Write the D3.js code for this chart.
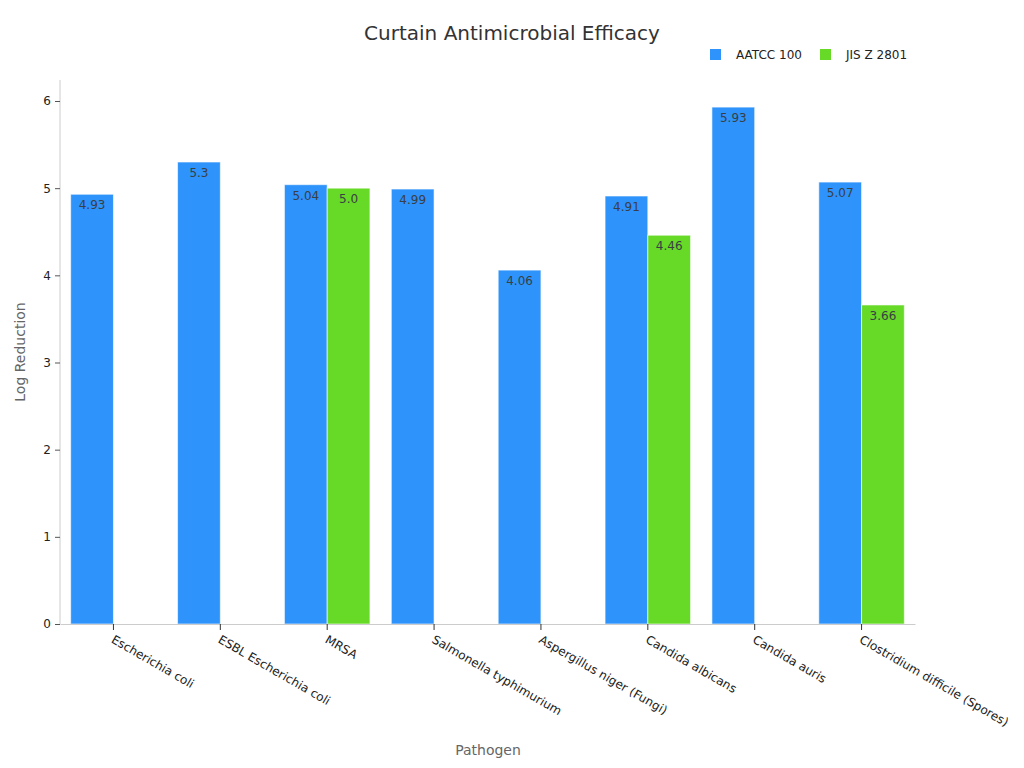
<!DOCTYPE html>
<html><head><meta charset="utf-8">
<script src="https://cdn.jsdelivr.net/npm/d3@7/dist/d3.min.js"></script>
<style>body{margin:0;background:#fff;font-family:"DejaVu Sans",sans-serif;}</style>
</head><body><svg id="c" width="1024" height="768"></svg>
<script>
const categories = ["Escherichia coli","ESBL Escherichia coli","MRSA","Salmonella typhimurium","Aspergillus niger (Fungi)","Candida albicans","Candida auris","Clostridium difficile (Spores)"];
const seriesNames = ["AATCC 100","JIS Z 2801"];
const aatcc = [4.93,5.3,5.04,4.99,4.06,4.91,5.93,5.07];
const jis = [null,null,5.0,null,null,4.46,null,3.66];
const yTicks = [0,1,2,3,4,5,6];
const colors = ["#2E93FA","#66DA26"];

const fmt = v => Number.isInteger(v) ? v.toFixed(1) : String(v);
const svg = d3.select("#c");
const m = {l:60, r:915, t:80, b:624};
const x0 = d3.scaleBand().domain(categories).range([m.l, m.r]).padding(0);
const bw = x0.bandwidth();
const x1 = d3.scaleBand().domain(seriesNames).range([bw*0.1, bw*0.9]).padding(0);
const y = d3.scaleLinear().domain([0,6]).range([m.b, 101]);

// title
svg.append("text").attr("x",512).attr("y",40).attr("text-anchor","middle")
  .attr("font-size",20).attr("fill","#333").text("Curtain Antimicrobial Efficacy");

// legend
const lg = svg.append("g");
[[710,736],[820,846]].forEach((p,i)=>{
  lg.append("rect").attr("x",p[0]).attr("y",49).attr("width",11).attr("height",11).attr("fill",colors[i]);
  lg.append("text").attr("x",p[1]).attr("y",59).attr("font-size",12).attr("fill","#222").text(seriesNames[i]);
});

// bars
const data = categories.map((c,i)=>({c, vals:[{s:seriesNames[0],v:aatcc[i]},{s:seriesNames[1],v:jis[i]}]}));
const g = svg.append("g");
data.forEach(d=>{
  d.vals.forEach((e,k)=>{
    if(e.v==null) return;
    const bx = x0(d.c)+x1(e.s);
    g.append("rect").attr("x",bx).attr("y",y(e.v)).attr("width",x1.bandwidth()).attr("height",y(0)-y(e.v))
      .attr("fill",colors[k]).attr("stroke","#ffffff").attr("stroke-opacity",0.6).attr("stroke-width",1);
    g.append("text").attr("x",bx+x1.bandwidth()/2).attr("y",y(e.v)+15).attr("text-anchor","middle")
      .attr("font-size",12).attr("fill","#3a3f44").text(fmt(e.v));
  });
});

// y axis
const ya = svg.append("g").attr("transform",`translate(${m.l},0)`)
  .call(d3.axisLeft(y).tickValues(yTicks).tickSize(5).tickPadding(4).tickFormat(d3.format("d")));
ya.select(".domain").attr("stroke","#ccc").attr("d",`M0,${m.t}V${m.b}`);
ya.selectAll(".tick line").attr("stroke","#555");
ya.selectAll(".tick text").attr("font-size",12).attr("fill","#222").attr("font-family","DejaVu Sans");

// x axis
const xa = svg.append("g").attr("transform",`translate(0,${m.b})`)
  .call(d3.axisBottom(x0).tickSize(6).tickSizeOuter(0));
xa.select(".domain").attr("stroke","#ccc");
xa.selectAll(".tick line").attr("stroke","#333");
xa.selectAll(".tick text").attr("font-size",12).attr("fill","#222").attr("font-family","DejaVu Sans")
  .attr("text-anchor","start").attr("dy",null).attr("y",0)
  .attr("transform","translate(-3,18) rotate(30)");

// axis titles
svg.append("text").attr("x",488).attr("y",755).attr("text-anchor","middle").attr("font-size",14).attr("fill","#666").text("Pathogen");
svg.append("text").attr("transform","translate(25,352) rotate(-90)").attr("text-anchor","middle").attr("font-size",14).attr("fill","#666").text("Log Reduction");
</script></body></html>
